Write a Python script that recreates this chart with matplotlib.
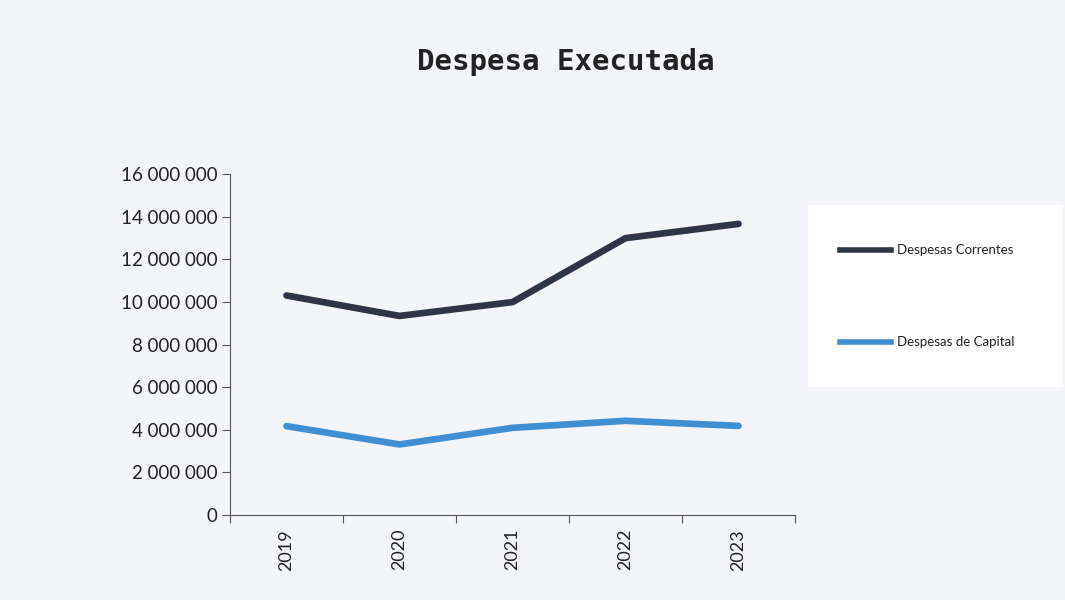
import matplotlib.pyplot as plt
from matplotlib.ticker import FuncFormatter

# values
anos = ['2019', '2020', '2021', '2022', '2023']
correntes = [10300000, 9340000, 9990000, 12990000, 13660000]
capital = [4170000, 3310000, 4090000, 4420000, 4180000]

bg = '#f4f5f9'

fig = plt.figure(figsize=(10.65, 6.0), dpi=100, facecolor=bg)
ax = fig.add_axes([230 / 1065, 1 - 515 / 600, 565 / 1065, 341 / 600])
ax.set_facecolor(bg)

x = range(len(anos))
l1, = ax.plot(x, correntes, color='#2f3447', lw=4.8, solid_capstyle='round', solid_joinstyle='round')
l2, = ax.plot(x, capital, color='#3f8fd2', lw=4.8, solid_capstyle='round', solid_joinstyle='round')

ax.set_xlim(-0.5, len(anos) - 0.5)
ax.set_ylim(0, 16000000)
ax.set_yticks(range(0, 16000001, 2000000))
ax.yaxis.set_major_formatter(FuncFormatter(lambda v, p: '{:,.0f}'.format(v).replace(',', ' ')))
ax.set_xticks([i - 0.5 for i in range(len(anos) + 1)], minor=False)
ax.set_xticklabels([''] * (len(anos) + 1))
ax.set_xticks(list(x), minor=True)
ax.set_xticklabels(anos, minor=True, rotation=90, fontsize=13, family='Lato', color='#222222')
ax.tick_params(axis='x', which='minor', length=0, pad=10)
ax.tick_params(axis='x', which='major', length=6, color='#555555', direction='out')
ax.tick_params(axis='y', length=6, color='#555555', labelsize=13.5, labelcolor='#222222', pad=3)
for lab in ax.get_yticklabels():
    lab.set_family('Lato')

for s in ['top', 'right']:
    ax.spines[s].set_visible(False)
ax.spines['left'].set_color('#555555')
ax.spines['bottom'].set_color('#555555')

fig.text(566 / 1065, 1 - 62 / 600, 'Despesa Executada', ha='center', va='center',
         fontsize=21, fontweight='bold', family='DejaVu Sans Mono', color='#222222')

# legend box on the right
box = plt.Rectangle((808 / 1065, 1 - 387 / 600), 254 / 1065, 182 / 600,
                    transform=fig.transFigure, facecolor='white', edgecolor='none')
fig.patches.append(box)
for ly, line, lab in [(250, l1, 'Despesas Correntes'), (342, l2, 'Despesas de Capital')]:
    fy = 1 - ly / 600
    fig.lines.append(plt.Line2D([840 / 1065, 891 / 1065], [fy, fy], transform=fig.transFigure,
                                color=line.get_color(), lw=4))
    fig.text(897 / 1065, fy, lab, ha='left', va='center', fontsize=9.5, family='Lato', color='#222222')

plt.savefig('out.png', dpi=100, facecolor=bg)
